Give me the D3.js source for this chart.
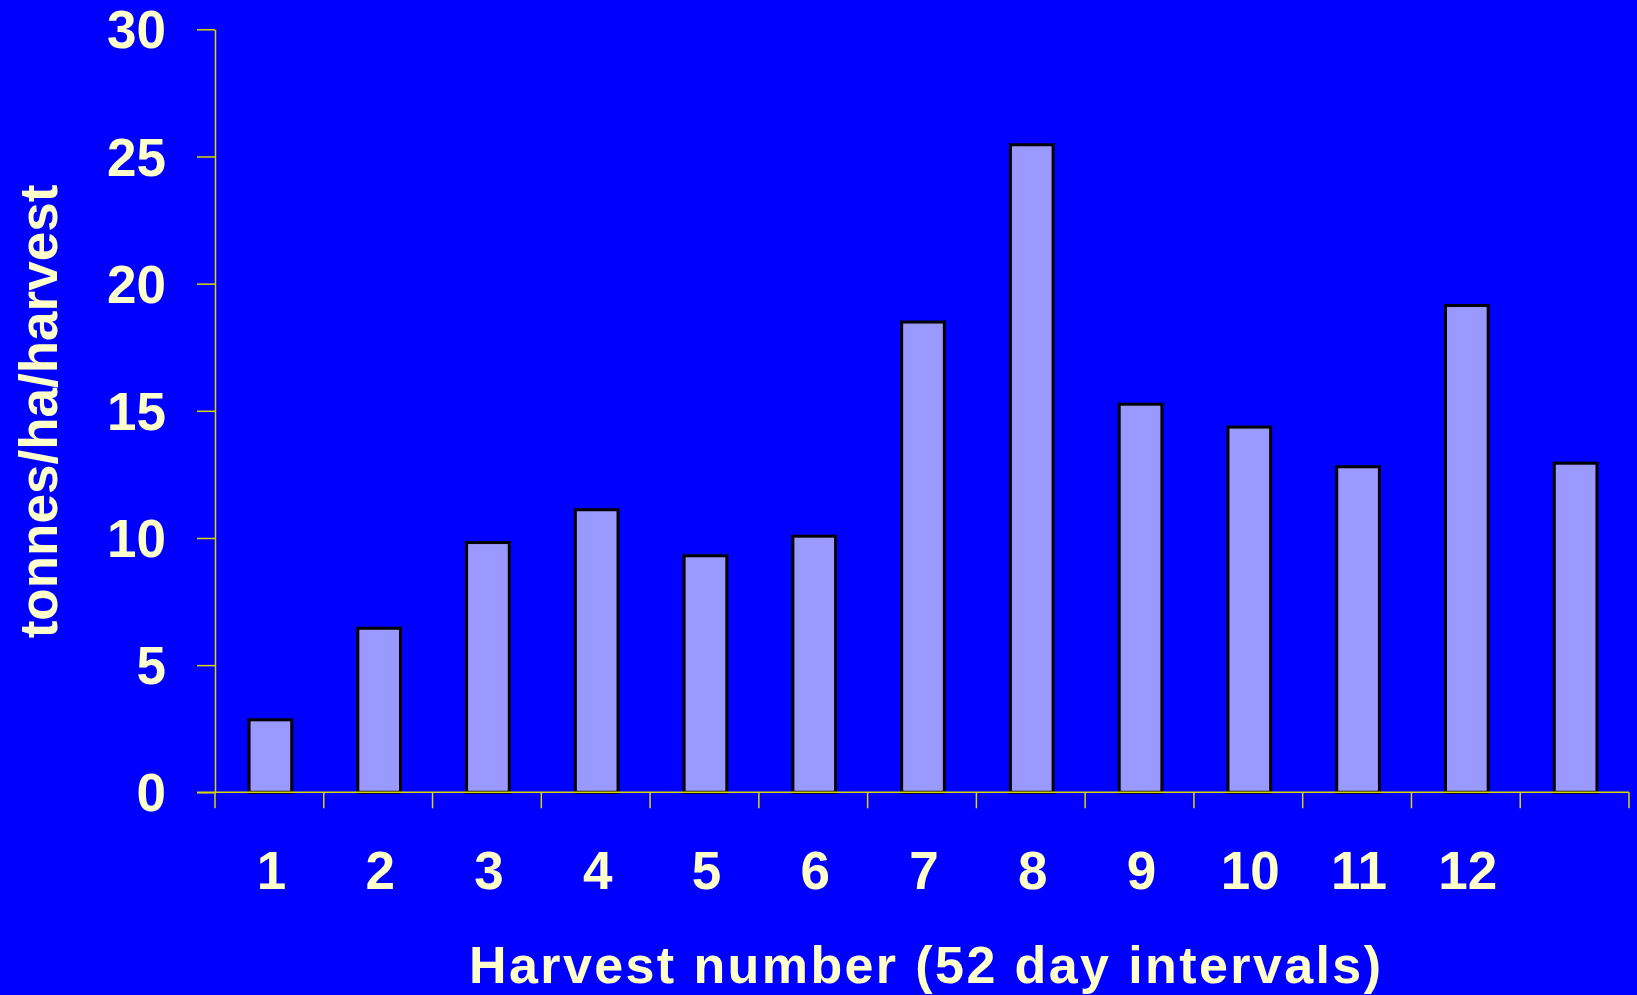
<!DOCTYPE html>
<html>
<head>
<meta charset="utf-8">
<script src="https://cdn.jsdelivr.net/npm/d3@7"></script>
<style>
  html, body { margin: 0; padding: 0; background: #0000FF; overflow: hidden; }
  svg { display: block; }
  text { font-family: "Liberation Sans", Arial, sans-serif; font-weight: bold; fill: #FFFFCC; }
</style>
</head>
<body>
<script>
// ---- data ----
const categories = [1, 2, 3, 4, 5, 6, 7, 8, 9, 10, 11, 12, 13];
const categoryLabels = ["1", "2", "3", "4", "5", "6", "7", "8", "9", "10", "11", "12", ""];
const yieldValues = [2.85, 6.45, 9.82, 11.11, 9.30, 10.07, 18.49, 25.46, 15.26, 14.36, 12.80, 19.14, 12.94];
const yTicks = [0, 5, 10, 15, 20, 25, 30];
const yTitle = "tonnes/ha/harvest";
const xTitle = "Harvest number (52 day intervals)";

// ---- layout ----
const W = 1637, H = 995;
const plot = { left: 215, right: 1629, top: 29.3, bottom: 792.3 };
const axisColor = "#D8D800";

const svg = d3.select("body").append("svg").attr("width", W).attr("height", H);
svg.append("rect").attr("width", W).attr("height", H).attr("fill", "#0000FF");

const x = d3.scaleBand().domain(categories).range([plot.left, plot.right]).paddingInner(0).paddingOuter(0);
const y = d3.scaleLinear().domain([0, 30]).range([plot.bottom, plot.top]);

const barW = 42.7;

// bars
svg.append("g").selectAll("rect").data(categories).join("rect")
  .attr("x", (d) => x(d) + x.bandwidth() / 2 - barW / 2 + 1)
  .attr("y", (d, i) => y(yieldValues[i]))
  .attr("width", barW)
  .attr("height", (d, i) => y(0) - y(yieldValues[i]))
  .attr("fill", "#9999FF")
  .attr("stroke", "#000000")
  .attr("stroke-width", 3);

// y axis
const yAxis = svg.append("g").attr("transform", `translate(${plot.left},0)`)
  .call(d3.axisLeft(y).tickValues(yTicks).tickSize(18).tickSizeOuter(0).tickFormat(d3.format("d")));
yAxis.select(".domain").attr("stroke", axisColor).attr("stroke-width", 1.5);
yAxis.selectAll(".tick line").attr("stroke", axisColor).attr("stroke-width", 1.5);
yAxis.selectAll(".tick text")
  .attr("x", -49)
  .attr("dy", "0.35em")
  .attr("font-size", 53)
  .attr("font-family", "'Liberation Sans', Arial, sans-serif")
  .attr("font-weight", "bold")
  .attr("fill", "#FFFFCC");

// x axis baseline + ticks at band boundaries
const bounds = categories.map((d) => x(d)).concat([plot.right]);
const xAxisG = svg.append("g");
xAxisG.append("line")
  .attr("x1", plot.left - 18).attr("x2", plot.right)
  .attr("y1", y(0)).attr("y2", y(0))
  .attr("stroke", axisColor).attr("stroke-width", 1.5);
xAxisG.selectAll("line.tk").data(bounds).join("line").attr("class", "tk")
  .attr("x1", (d) => d).attr("x2", (d) => d)
  .attr("y1", y(0)).attr("y2", y(0) + 16)
  .attr("stroke", axisColor).attr("stroke-width", 1.5);

// x labels
svg.append("g").selectAll("text").data(categories).join("text")
  .attr("x", (d) => x(d) + x.bandwidth() / 2 + 2)
  .attr("y", 889)
  .attr("text-anchor", "middle")
  .attr("font-size", 53)
  .text((d, i) => categoryLabels[i]);

// axis titles
svg.append("text")
  .attr("transform", "translate(57,411.5) rotate(-90)")
  .attr("text-anchor", "middle")
  .attr("font-size", 53)
  .text(yTitle);

svg.append("text")
  .attr("x", 925)
  .attr("y", 983)
  .attr("text-anchor", "middle")
  .attr("font-size", 52)
  .attr("textLength", 912)
  .attr("lengthAdjust", "spacing")
  .text(xTitle);
</script>
</body>
</html>
